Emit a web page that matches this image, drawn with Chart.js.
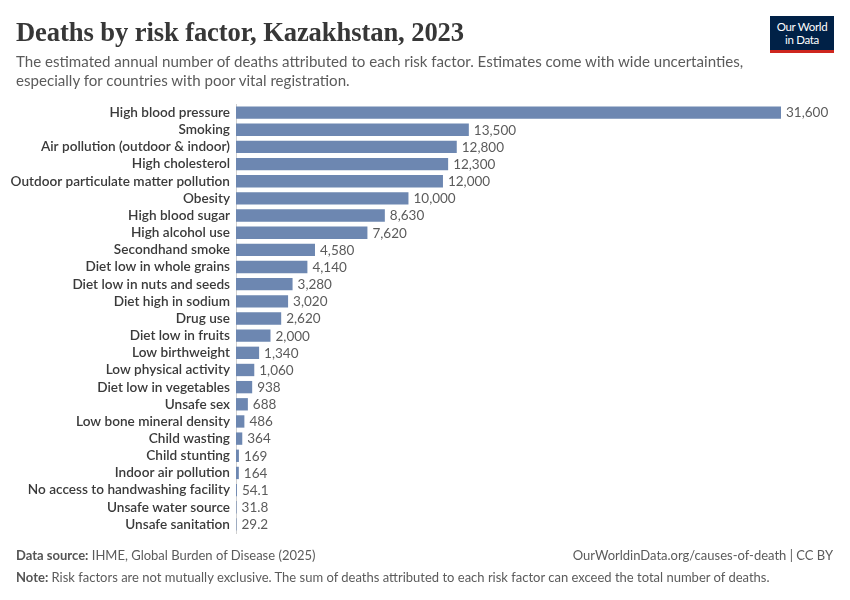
<!DOCTYPE html>
<html>
<head>
<meta charset="utf-8">
<script src="https://cdn.jsdelivr.net/npm/chart.js@4.4.1/dist/chart.umd.min.js"></script>
<style>
  html, body { margin: 0; padding: 0; background: #fff; }
  body { width: 850px; height: 600px; position: relative; overflow: hidden; font-family: Lato, "Noto Sans", sans-serif; }
  #wrap { position: absolute; left: 0; top: 0; width: 850px; height: 600px; }
  .title { position: absolute; left: 16px; top: 17px; font-family: "Liberation Serif", "DejaVu Serif", serif; font-size: 26.6px; font-weight: bold; color: #373737; letter-spacing: -0.1px; white-space: nowrap; }
  .subtitle { position: absolute; left: 16px; top: 52px; width: 760px; font-size: 15.1px; line-height: 19px; color: #5b5b5b; }
  .logo { position: absolute; left: 770px; top: 16px; width: 64px; height: 37px; background: #002147; border-bottom: 3px solid #ce261e; box-sizing: border-box; color: #fff; font-size: 11.5px; line-height: 13px; text-align: center; padding-top: 4px; letter-spacing: -0.3px; }
  .foot { position: absolute; font-size: 13px; color: #5b5b5b; white-space: nowrap; }
  .foot b { font-weight: 700; color: #555; }
</style>
</head>
<body>
<div id="wrap"><canvas id="c" width="850" height="600"></canvas></div>
<div class="title">Deaths by risk factor, Kazakhstan, 2023</div>
<div class="subtitle">The estimated annual number of deaths attributed to each risk factor. Estimates come with wide uncertainties, especially for countries with poor vital registration.</div>
<div class="logo">Our World<br>in Data</div>
<div class="foot" style="left:16px; top:547px;"><b>Data source:</b> IHME, Global Burden of Disease (2025)</div>
<div class="foot" style="right:17px; top:547px;">OurWorldinData.org/causes-of-death | CC BY</div>
<div class="foot" style="left:16px; top:569px;"><b>Note:</b> Risk factors are not mutually exclusive. The sum of deaths attributed to each risk factor can exceed the total number of deaths.</div>
<script>
const categories = [
  "High blood pressure", "Smoking", "Air pollution (outdoor & indoor)", "High cholesterol",
  "Outdoor particulate matter pollution", "Obesity", "High blood sugar", "High alcohol use",
  "Secondhand smoke", "Diet low in whole grains", "Diet low in nuts and seeds", "Diet high in sodium",
  "Drug use", "Diet low in fruits", "Low birthweight", "Low physical activity",
  "Diet low in vegetables", "Unsafe sex", "Low bone mineral density", "Child wasting",
  "Child stunting", "Indoor air pollution", "No access to handwashing facility",
  "Unsafe water source", "Unsafe sanitation"
];
const deaths = [
  31600, 13500, 12800, 12300, 12000, 10000, 8630, 7620, 4580, 4140, 3280, 3020,
  2620, 2000, 1340, 1060, 938, 688, 486, 364, 169, 164, 54.1, 31.8, 29.2
];
const valueLabels = [
  "31,600", "13,500", "12,800", "12,300", "12,000", "10,000", "8,630", "7,620",
  "4,580", "4,140", "3,280", "3,020", "2,620", "2,000", "1,340", "1,060",
  "938", "688", "486", "364", "169", "164", "54.1", "31.8", "29.2"
];

const valuePlugin = {
  id: 'valueLabels',
  afterDatasetsDraw(chart) {
    const ctx = chart.ctx;
    const meta = chart.getDatasetMeta(0);
    ctx.save();
    ctx.font = '13.5px Lato, "Noto Sans", sans-serif';
    ctx.fillStyle = '#5b5b5b';
    ctx.textBaseline = 'middle';
    ctx.textAlign = 'left';
    meta.data.forEach((bar, i) => {
      ctx.fillText(valueLabels[i], bar.x + 5, bar.y + 0.5);
    });
    ctx.restore();
  }
};

new Chart(document.getElementById('c'), {
  type: 'bar',
  data: {
    labels: categories,
    datasets: [{
      data: deaths,
      backgroundColor: '#6d87b1',
      borderWidth: 0,
      barPercentage: 0.72,
      categoryPercentage: 1.0
    }]
  },
  options: {
    indexAxis: 'y',
    responsive: false,
    animation: false,
    devicePixelRatio: 1,
    layout: { padding: { top: 104, bottom: 67, left: 0, right: 69 } },
    plugins: { legend: { display: false }, tooltip: { enabled: false } },
    scales: {
      x: { display: false, min: 0, max: 31600 },
      y: {
        afterFit(scale) { scale.width = 236; },
        grid: { display: false, drawTicks: false },
        border: { display: true, color: '#d0d0d0', width: 1 },
        ticks: {
          autoSkip: false,
          padding: 6,
          color: '#3a3a3a',
          font: { family: 'Lato, "Noto Sans", sans-serif', size: 13.6, weight: '600' }
        }
      }
    }
  },
  plugins: [valuePlugin]
});
</script>
</body>
</html>
